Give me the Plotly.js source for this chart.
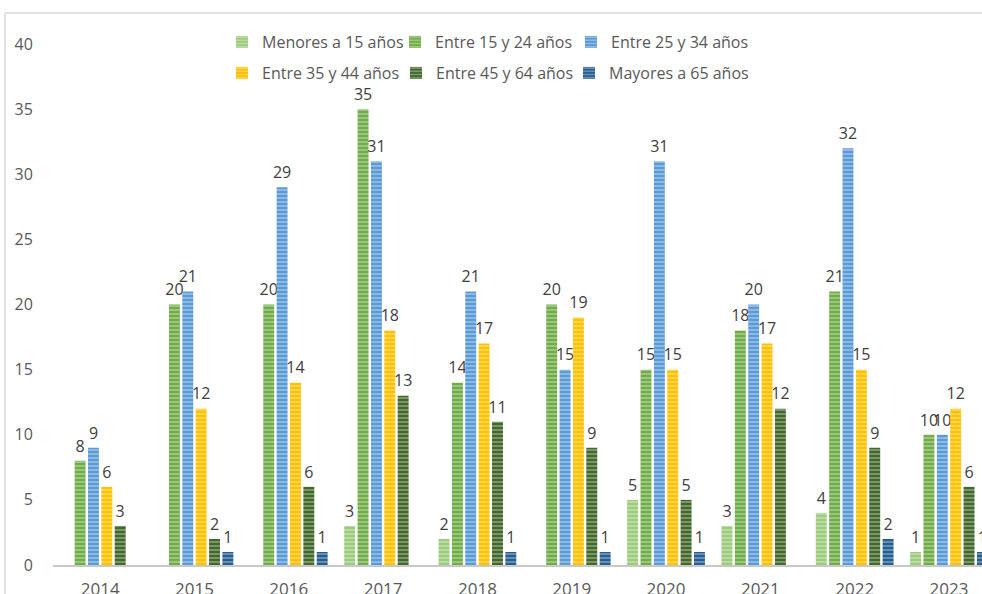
<!DOCTYPE html>
<html>
<head>
<meta charset="utf-8">
<script src="https://cdn.plot.ly/plotly-3.0.1.min.js"></script>
<style>
  html, body { margin: 0; padding: 0; background: #ffffff; overflow: hidden; }
  #chart { width: 982px; height: 594px; }
</style>
</head>
<body>
<div id="chart"></div>
<script>
const years = ['2014','2015','2016','2017','2018','2019','2020','2021','2022','2023'];
const seriesNames = ['Menores a 15 años','Entre 15 y 24 años','Entre 25 y 34 años','Entre 35 y 44 años','Entre 45 y 64 años','Mayores a 65 años'];
const menores15 = [null, null, null, 3, 2, null, 5, 3, 4, 1];
const entre15_24 = [8, 20, 20, 35, 14, 20, 15, 18, 21, 10];
const entre25_34 = [9, 21, 29, 31, 21, 15, 31, 20, 32, 10];
const entre35_44 = [6, 12, 14, 18, 17, 19, 15, 17, 15, 12];
const entre45_64 = [3, 2, 6, 13, 11, 9, 5, 12, 9, 6];
const mayores65 = [null, 1, 1, null, 1, 1, 1, null, 2, 1];
const yTicks = [0, 5, 10, 15, 20, 25, 30, 35, 40];

const seriesValues = [menores15, entre15_24, entre25_34, entre35_44, entre45_64, mayores65];
const colors = ['#9ccb7c', '#70ad47', '#5b9bd5', '#ffc000', '#43682b', '#255e91'];
const FONT = '"Open Sans", "Noto Sans", Arial, sans-serif';

// label: number line plus a tiny spacer line so the label sits a bit higher above the bar
const makeLabel = v => v === null ? '' :
  '<span style="font-size:16px">' + v + '</span><br><span style="font-size:4px">&nbsp;</span>';

const legendIds = ['legend', 'legend2', 'legend3', 'legend4', 'legend5', 'legend6'];

const traces = seriesValues.map((vals, i) => ({
  type: 'bar',
  name: seriesNames[i],
  x: years,
  y: vals,
  text: vals.map(makeLabel),
  textposition: 'outside',
  textangle: 0,
  constraintext: 'none',
  cliponaxis: true,
  textfont: { family: FONT, size: 4, color: '#404040' },
  marker: {
    color: colors[i],
    line: { width: 0 },
    pattern: { shape: '-', fgcolor: '#ffffff', bgcolor: colors[i], fgopacity: 0.5, size: 4, solidity: 0.3, fillmode: 'replace' }
  },
  legend: legendIds[i],
  hoverinfo: 'skip'
}));

// text start x (px) and row centre y (px) of each legend entry
const legendTextX = [262, 435, 611, 262, 436, 609];
const legendRowY = [42, 42, 42, 73, 73, 73];

const layout = {
  width: 982, height: 594,
  margin: { l: 53, r: 0, t: 44, b: 29, autoexpand: false },
  paper_bgcolor: '#ffffff',
  plot_bgcolor: '#ffffff',
  barmode: 'group',
  bargap: 0.15,
  bargroupgap: 0.18,
  showlegend: true,
  xaxis: {
    type: 'category',
    range: [-0.5, 9.35],
    showgrid: false,
    zeroline: false,
    showline: true,
    linecolor: '#c8c8c8',
    linewidth: 2,
    ticks: 'outside',
    ticklen: 8,
    tickcolor: 'rgba(0,0,0,0)',
    tickfont: { family: FONT, size: 17, color: '#595959' },
    fixedrange: true,
    automargin: false
  },
  yaxis: {
    range: [0, 40],
    tickvals: yTicks,
    ticktext: yTicks.map(String),
    showgrid: false,
    zeroline: false,
    showline: false,
    ticks: 'outside',
    ticklen: 16,
    tickcolor: 'rgba(0,0,0,0)',
    tickfont: { family: FONT, size: 16, color: '#595959' },
    fixedrange: true,
    automargin: false
  },
  shapes: [
    { type: 'line', xref: 'paper', yref: 'paper', x0: (5 - 53) / 929, x1: 1.05, y0: (565 - 13) / 521, y1: (565 - 13) / 521, line: { color: '#d9d9d9', width: 1.5 }, layer: 'below' },
    { type: 'line', xref: 'paper', yref: 'paper', x0: (5 - 53) / 929, x1: (5 - 53) / 929, y0: (565 - 13) / 521, y1: -0.2, line: { color: '#d9d9d9', width: 1.5 }, layer: 'below' }
  ]
};

legendIds.forEach((id, i) => {
  layout[id] = {
    orientation: 'h',
    xref: 'container', yref: 'container',
    x: (legendTextX[i] - 40) / 982,
    y: 1 - legendRowY[i] / 594,
    xanchor: 'left', yanchor: 'middle',
    font: { family: FONT, size: 16, color: '#595959' },
    itemwidth: 30,
    bgcolor: 'rgba(0,0,0,0)'
  };
});

Plotly.newPlot('chart', traces, layout, { staticPlot: true, displayModeBar: false });
</script>
</body>
</html>
